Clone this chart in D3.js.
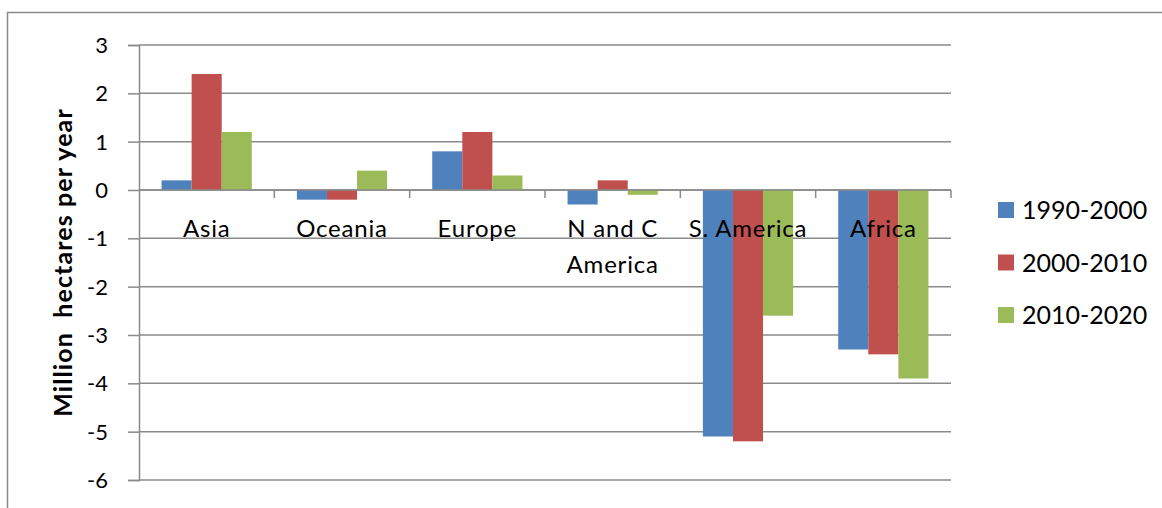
<!DOCTYPE html>
<html><head><meta charset="utf-8">
<script src="https://cdn.jsdelivr.net/npm/d3@7"></script>
<style>body{margin:0;background:#fff} svg{display:block}</style>
</head><body><svg id="c" width="1162" height="508"></svg>
<script>
const categories = ["Asia", "Oceania", "Europe", "N and C America", "S. America", "Africa"];
const seriesNames = ["1990-2000", "2000-2010", "2010-2020"];
const values1990 = [0.2, -0.2, 0.8, -0.3, -5.1, -3.3];
const values2000 = [2.4, -0.2, 1.2, 0.2, -5.2, -3.4];
const values2010 = [1.2, 0.4, 0.3, -0.1, -2.6, -3.9];
const yTicks = [3, 2, 1, 0, -1, -2, -3, -4, -5, -6];
const yTitle = "Million  hectares per year";
const colors = ["#4F81BD", "#C0504D", "#9BBB59"];

(function () {
const seriesValues = [values1990, values2000, values2010];
const FONT = "Lato, 'Open Sans', sans-serif";
const svg = d3.select("#c");

// outer frame
svg.append("rect").attr("x", 7.5).attr("y", 12.5).attr("width", 1300).attr("height", 700)
  .attr("fill", "none").attr("stroke", "#8a8a8a").attr("stroke-width", 1.5);

const pL = 139, pR = 951, pT = 45, pB = 480;
const x0 = d3.scaleBand().domain(categories).range([pL, pR]).paddingInner(0).paddingOuter(0);
const x1 = d3.scaleBand().domain(seriesNames).range([0, x0.bandwidth()]).paddingInner(0).paddingOuter(0.75);
const y = d3.scaleLinear().domain([-6, 3]).range([pB, pT]);

// gridlines
svg.append("g").selectAll("line").data(yTicks).join("line")
  .attr("x1", pL).attr("x2", pR)
  .attr("y1", d => y(d)).attr("y2", d => y(d))
  .attr("stroke", "#8a8a8a").attr("stroke-width", 1.5);

// y axis
const yAxis = svg.append("g").attr("transform", `translate(${pL},0)`)
  .call(d3.axisLeft(y).tickValues(yTicks).tickSize(11).tickPadding(20).tickFormat(d => String(d)));
yAxis.select(".domain").attr("stroke", "#8a8a8a").attr("stroke-width", 1.5);
yAxis.selectAll(".tick line").attr("stroke", "#8a8a8a").attr("stroke-width", 1.5);
yAxis.selectAll(".tick text").attr("font-family", FONT).attr("font-size", 22).attr("fill", "#000").attr("dy", "0.34em");

// bars
const groups = svg.append("g").selectAll("g").data(seriesNames).join("g")
  .attr("fill", (d, i) => colors[i]);
groups.selectAll("rect").data((s, si) => categories.map((c, ci) => ({c, s, v: seriesValues[si][ci]})))
  .join("rect")
  .attr("x", d => x0(d.c) + x1(d.s))
  .attr("width", x1.bandwidth())
  .attr("y", d => y(Math.max(0, d.v)))
  .attr("height", d => Math.abs(y(d.v) - y(0)));

// zero axis line
svg.append("line").attr("x1", pL).attr("x2", pR).attr("y1", y(0)).attr("y2", y(0))
  .attr("stroke", "#8a8a8a").attr("stroke-width", 1.5);
// category ticks
svg.append("g").selectAll("line").data(categories).join("line")
  .attr("x1", d => x0(d) + x0.bandwidth()).attr("x2", d => x0(d) + x0.bandwidth())
  .attr("y1", y(0)).attr("y2", y(0) + 8)
  .attr("stroke", "#8a8a8a").attr("stroke-width", 1.5);

// category labels
const catLines = c => c === "N and C America" ? ["N and C", "America"] : [c];
const labels = svg.append("g").selectAll("text").data(categories).join("text")
  .attr("font-family", FONT).attr("font-size", 24).attr("fill", "#000")
  .attr("text-anchor", "middle").attr("letter-spacing", 0.8);
labels.selectAll("tspan").data(c => catLines(c).map(l => ({c, l}))).join("tspan")
  .attr("x", d => x0(d.c) + x0.bandwidth() / 2)
  .attr("y", (d, i) => y(0) + 47 + i * 36)
  .text(d => d.l);

// y title
svg.append("text").attr("transform", `translate(72,${(pT + pB) / 2}) rotate(-90)`)
  .attr("text-anchor", "middle").attr("font-family", FONT).attr("font-weight", "bold")
  .attr("font-size", 25).attr("letter-spacing", 1.1).attr("xml:space", "preserve")
  .style("white-space", "pre").attr("fill", "#000").text(yTitle);

// legend
const lg = svg.append("g").selectAll("g").data(seriesNames).join("g")
  .attr("transform", (d, i) => `translate(998,${210 + i * 52.5})`);
lg.append("rect").attr("x", 0).attr("y", -8).attr("width", 16).attr("height", 16)
  .attr("fill", (d, i) => colors[i]);
lg.append("text").attr("x", 24).attr("y", 9).attr("font-family", FONT).attr("font-size", 25)
  .attr("fill", "#000").text(d => d);
})();
</script></body></html>
